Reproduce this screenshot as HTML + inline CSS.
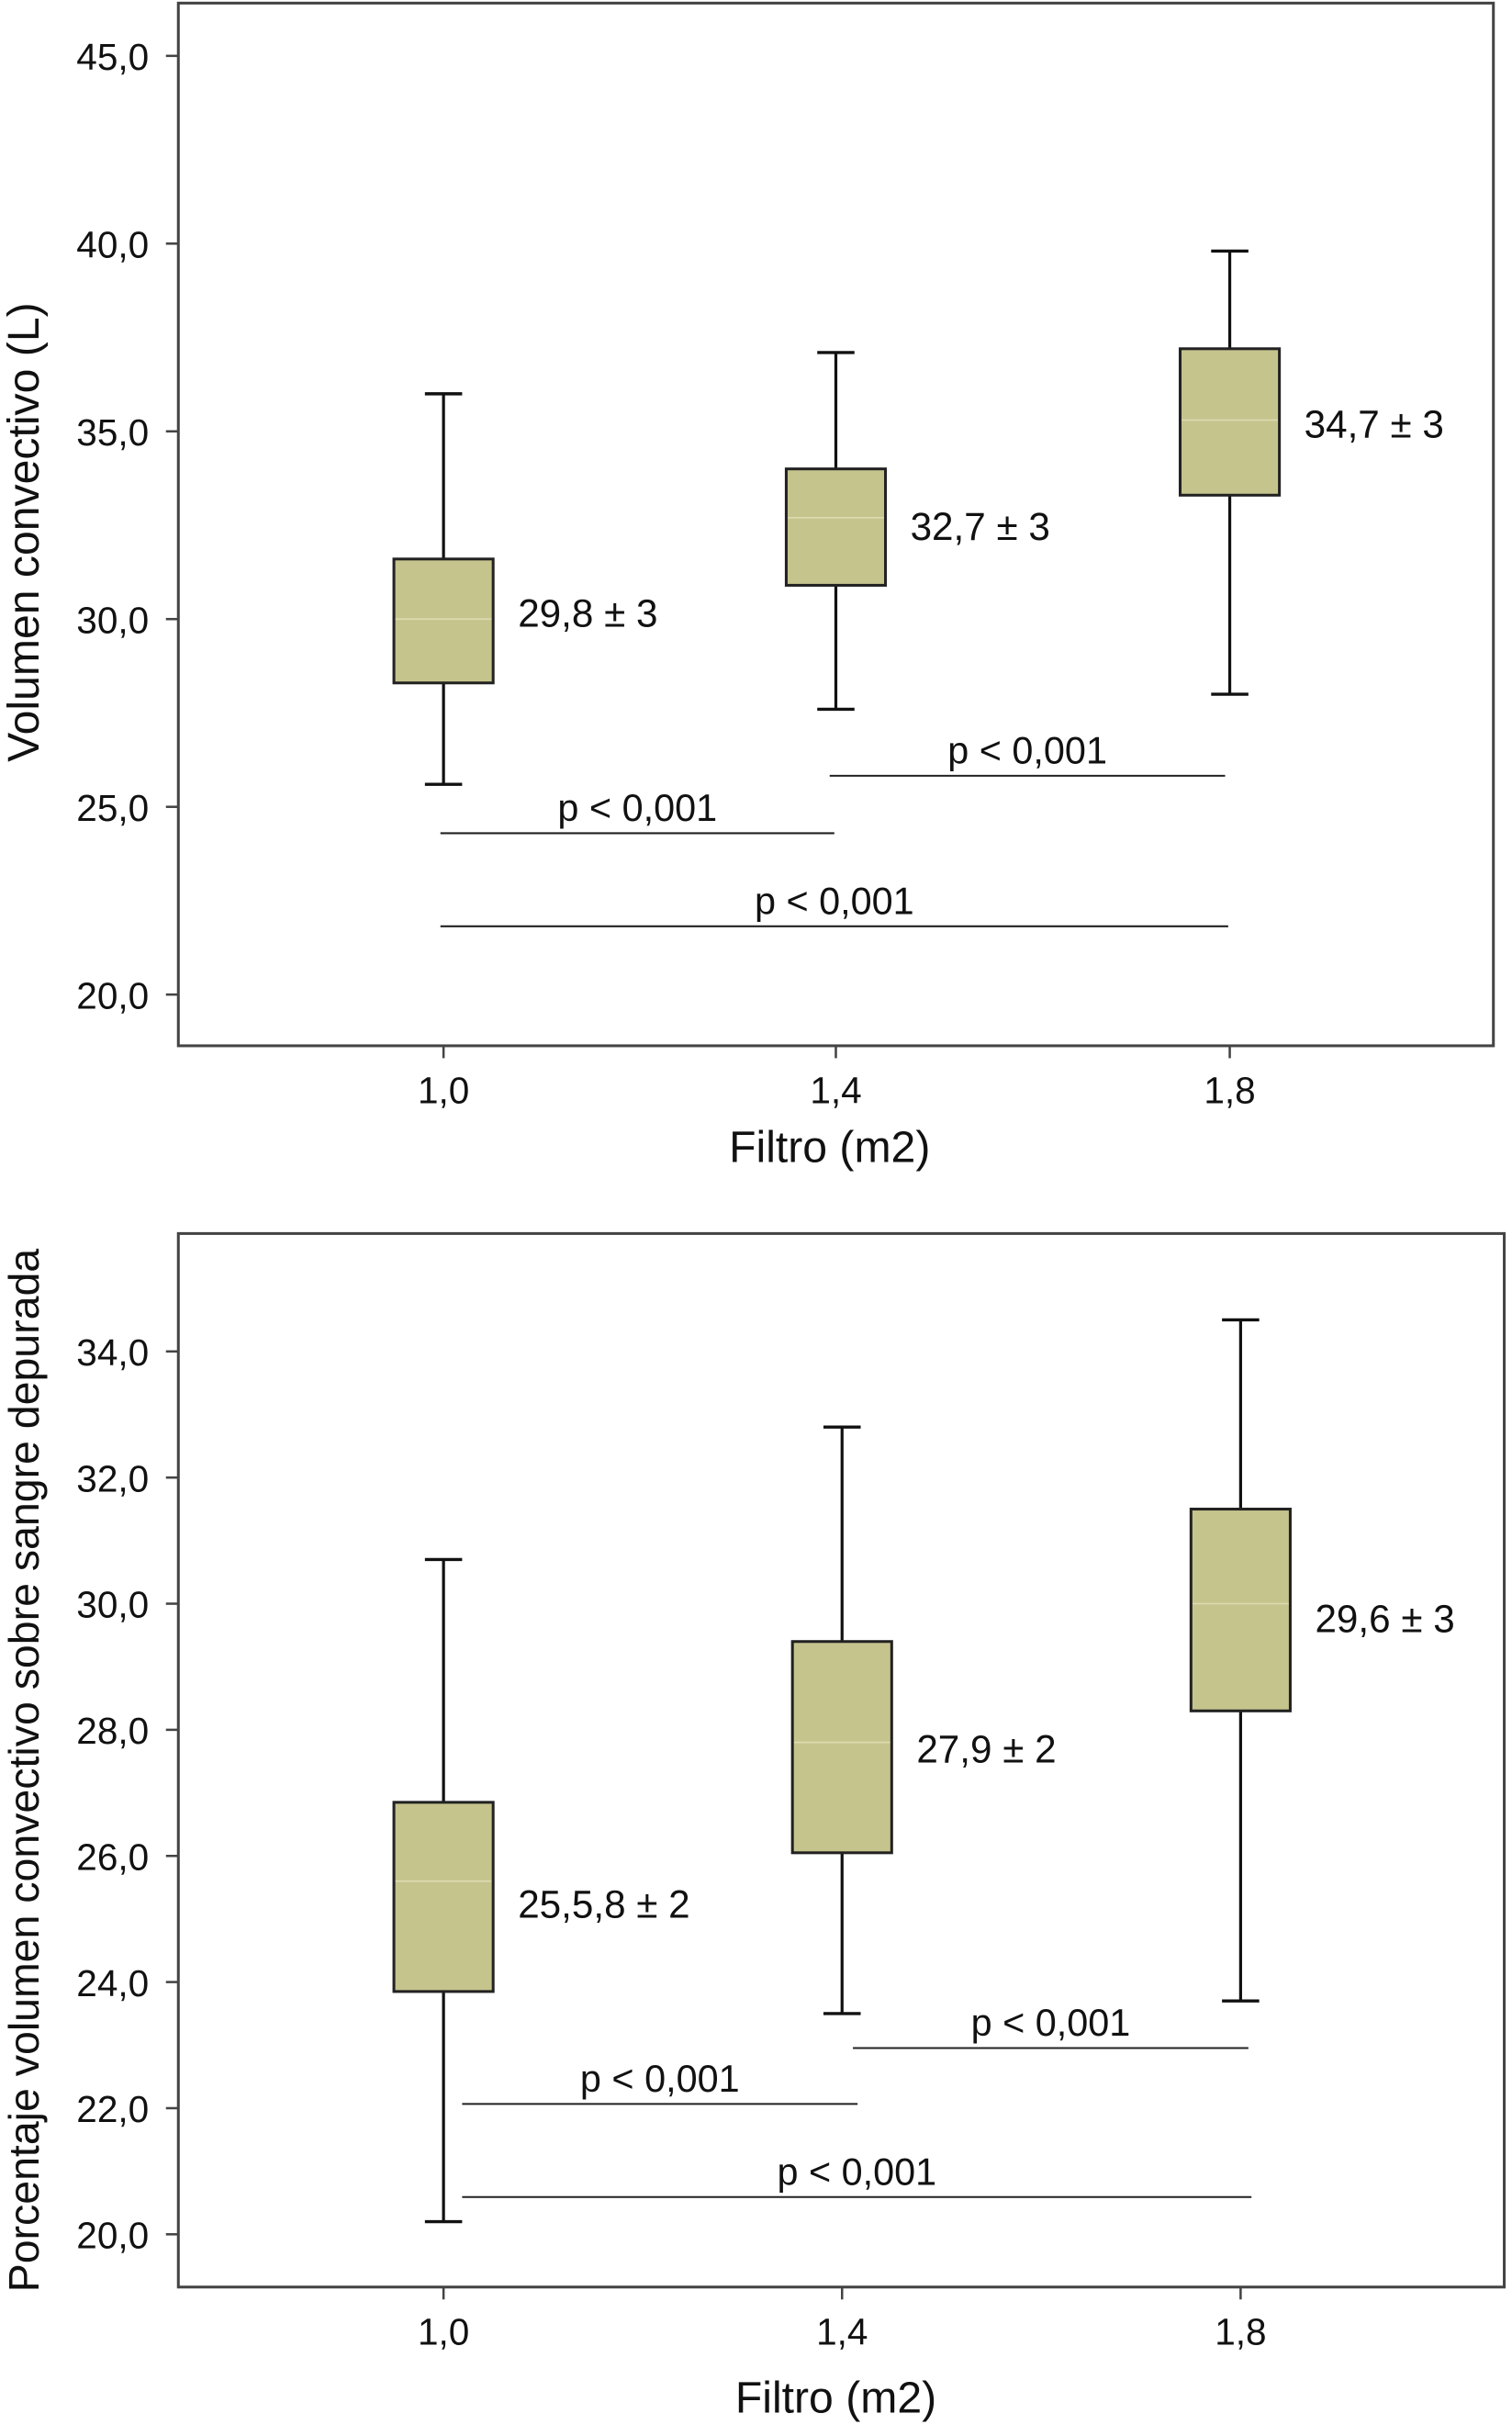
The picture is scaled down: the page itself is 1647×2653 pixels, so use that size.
<!DOCTYPE html>
<html><head><meta charset="utf-8"><style>
html,body{margin:0;padding:0;background:#fff}
svg{display:block}
text{font-family:"Liberation Sans",sans-serif;fill:#111}
</style></head><body>
<svg id="fig" width="1647" height="2653" viewBox="0 0 975 1570" preserveAspectRatio="none" xmlns="http://www.w3.org/2000/svg"></svg>
<script>
// ---- Chart 1 data ----
const cats = ["1,0","1,4","1,8"];
const top_wLow = [25.6, 27.6, 28.0];
const top_q1 = [28.3, 30.9, 33.3];
const top_median = [30.0, 32.7, 35.3];
const top_q3 = [31.6, 34.0, 37.2];
const top_wHigh = [36.0, 37.1, 39.8];
const top_labels = ["29,8 ± 3","32,7 ± 3","34,7 ± 3"];
const top_ticks = [20,25,30,35,40,45];
const top_tickLabels = ["20,0","25,0","30,0","35,0","40,0","45,0"];
// ---- Chart 2 data ----
const bot_wLow = [20.2, 23.5, 23.7];
const bot_q1 = [23.85, 26.05, 28.3];
const bot_median = [25.6, 27.8, 30.0];
const bot_q3 = [26.85, 29.4, 31.5];
const bot_wHigh = [30.7, 32.8, 34.5];
const bot_labels = ["25,5,8 ± 2","27,9 ± 2","29,6 ± 3"];
const bot_ticks = [20,22,24,26,28,30,32,34];
const bot_tickLabels = ["20,0","22,0","24,0","26,0","28,0","30,0","32,0","34,0"];

const NS="http://www.w3.org/2000/svg";
const svg=document.getElementById('fig');
function mk(tag,attrs,parent){const e=document.createElementNS(NS,tag);for(const k in attrs)e.setAttribute(k,attrs[k]);(parent||svg).appendChild(e);return e;}

function chart(cfg){
  const g=mk('g',{});
  
  
  const y=v=>cfg.y0+(v-cfg.v0)*(cfg.y1-cfg.y0)/(cfg.v1-cfg.v0);
  const x=i=>cfg.xs[i];
  const fr=mk('rect',{x:cfg.L,y:cfg.T,width:cfg.R-cfg.L,height:cfg.B-cfg.T,fill:'none',stroke:'#444','stroke-width':1.8},g);
  
  
  cfg.ticks.forEach((t,i)=>{
    mk('line',{x1:cfg.L-8,x2:cfg.L,y1:y(t),y2:y(t),stroke:'#444','stroke-width':1.5},g);
    const tl=mk('text',{x:cfg.L-19,y:y(t)+9,'text-anchor':'end','font-size':24},g);
    tl.textContent=cfg.tickLabels[i];
    
    
  });
  cats.forEach((c,i)=>{
    mk('line',{x1:x(i),x2:x(i),y1:cfg.B,y2:cfg.B+8,stroke:'#444','stroke-width':1.5},g);
    const tl=mk('text',{x:x(i),y:cfg.B+37,'text-anchor':'middle','font-size':24},g);
    tl.textContent=c;
    
    
  });
  const xt=mk('text',{x:cfg.xtX,y:cfg.xtY,'text-anchor':'middle','font-size':28.5},g);
  xt.textContent='Filtro (m2)';
  
  
  const yt=mk('text',{x:0,y:0,'text-anchor':'middle','font-size':cfg.ytSize,transform:`translate(25,${cfg.ytY}) rotate(-90)`},g);
  yt.textContent=cfg.yTitle;
  
  
  const hw=32, cw=12;
  cats.forEach((c,i)=>{
    const bg=mk('g',{},g);
    
    
    mk('line',{x1:x(i),x2:x(i),y1:y(cfg.wLow[i]),y2:y(cfg.q1[i]),stroke:'#111','stroke-width':1.9},bg);
    mk('line',{x1:x(i),x2:x(i),y1:y(cfg.q3[i]),y2:y(cfg.wHigh[i]),stroke:'#111','stroke-width':1.9},bg);
    mk('line',{x1:x(i)-cw,x2:x(i)+cw,y1:y(cfg.wLow[i]),y2:y(cfg.wLow[i]),stroke:'#111','stroke-width':2},bg);
    mk('line',{x1:x(i)-cw,x2:x(i)+cw,y1:y(cfg.wHigh[i]),y2:y(cfg.wHigh[i]),stroke:'#111','stroke-width':2},bg);
    mk('rect',{x:x(i)-hw,y:y(cfg.q3[i]),width:2*hw,height:y(cfg.q1[i])-y(cfg.q3[i]),fill:'#c6c48d',stroke:'#222','stroke-width':1.8},bg);
    mk('line',{x1:x(i)-hw+1,x2:x(i)+hw-1,y1:y(cfg.median[i]),y2:y(cfg.median[i]),stroke:'#dcdab0','stroke-width':1},bg);
    const lb=mk('text',{x:x(i)+48,y:cfg.labelY[i],'font-size':25},bg);
    lb.textContent=cfg.labels[i];
    
    
  });
  cfg.pl.forEach(p=>{
    const pg=mk('g',{},g);
    
    
    mk('line',{x1:p[0],x2:p[1],y1:p[2],y2:p[2],stroke:'#222','stroke-width':1.2},pg);
    const t=mk('text',{x:(p[0]+p[1])/2,y:p[2]-8,'text-anchor':'middle','font-size':24.5},pg);
    t.textContent='p < 0,001';
  });
}

chart({name:'chart-volumen-convectivo',L:115,R:963,T:2,B:674,v0:20,v1:45,y0:641,y1:36,xs:[286,539,793],
  ticks:top_ticks,tickLabels:top_tickLabels,wLow:top_wLow,q1:top_q1,median:top_median,q3:top_q3,wHigh:top_wHigh,
  labels:top_labels,labelY:[404,348,282],xtX:535,xtY:749,yTitle:'Volumen convectivo (L)',ytY:343,ytSize:28.5,
  pl:[[284,538,537],[535,790,500],[284,792,597]]});
chart({name:'chart-porcentaje',L:115,R:970,T:795,B:1474,v0:20,v1:34,y0:1440,y1:871,xs:[286,543,800],
  ticks:bot_ticks,tickLabels:bot_tickLabels,wLow:bot_wLow,q1:bot_q1,median:bot_median,q3:bot_q3,wHigh:bot_wHigh,
  labels:bot_labels,labelY:[1236,1136,1052],xtX:539,xtY:1555,yTitle:'Porcentaje volumen convectivo sobre sangre depurada',ytY:1141,ytSize:27.5,
  pl:[[298,553,1356],[550,805,1320],[298,807,1416]]});
</script>
</body></html>
